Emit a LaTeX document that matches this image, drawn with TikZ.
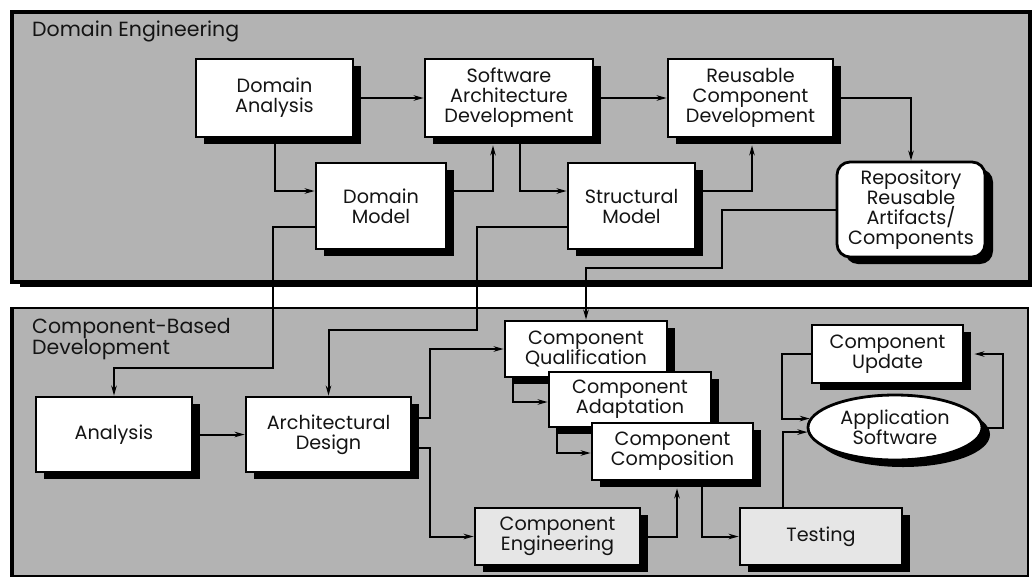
\documentclass[tikz,border=0pt]{standalone}
\usepackage{fontspec}
\setmainfont{Poppins}
\usetikzlibrary{shadows,arrows.meta,calc,shapes.geometric}
\definecolor{panel}{HTML}{B3B3B3}
\definecolor{light}{HTML}{E6E6E6}
\definecolor{ink}{HTML}{141414}
\begin{document}
\begin{tikzpicture}[x=1pt,y=-1pt,
  shad/.style={drop shadow={shadow xshift=8pt,shadow yshift=-7pt,fill=black,opacity=1}},
  box/.style={draw=black,line width=2.8pt,fill=white,align=center,text=ink,
    font=\fontsize{19.2}{20}\selectfont,inner sep=0pt,shad},
  lbox/.style={box,fill=light},
  conn/.style={line width=2pt,black},
  arr/.style={conn,-{Stealth[length=10pt,width=5.5pt]}},
  ttl/.style={text=ink,font=\fontsize{20.5}{20}\selectfont,inner sep=0pt,align=left}
]
\useasboundingbox (0,0) rectangle (1033,579);
% panels
\fill[black] (20,16) rectangle (1032,287);
\draw[line width=4pt,fill=panel] (12,12) rectangle (1030,282);
\draw[line width=1.2pt,fill=panel] (11,308) rectangle (1028,576);
\draw[line width=4pt] (12,307) -- (12,577);
\node[ttl,anchor=west] (t1) at (32,31) {Domain Engineering};
\node[ttl,anchor=north west] (t2) at (32,318) {Component-Based\\Development};
% top nodes
\node[box,minimum width=157pt,minimum height=78pt] (DA) at (274.5,98) {Domain\\Analysis};
\node[box,minimum width=168pt,minimum height=78pt] (SAD) at (509,98) {Software\\Architecture\\Development};
\node[box,minimum width=165pt,minimum height=78pt] (RCD) at (750.5,98) {Reusable\\Component\\Development};
\node[box,minimum width=130pt,minimum height=86pt] (DM) at (381,206) {Domain\\Model};
\node[box,minimum width=127pt,minimum height=86pt] (SM) at (631.5,206) {Structural\\Model};
\node[box,rounded corners=13pt,minimum width=148pt,minimum height=95pt] (RP) at (911,209.5) {Repository\\Reusable\\Artifacts/\\Components};
% bottom nodes
\node[box,minimum width=156pt,minimum height=75pt] (AN) at (114,434.5) {Analysis};
\node[box,minimum width=165pt,minimum height=75pt] (AD) at (328.5,434.5) {Architectural\\Design};
\node[box,minimum width=162pt,minimum height=56pt] (CQ) at (586,349) {Component\\Qualification};
\node[box,minimum width=162pt,minimum height=55pt] (CA) at (630,399.5) {Component\\Adaptation};
\node[box,minimum width=161pt,minimum height=57pt] (CC) at (672.5,451.5) {Component\\Composition};
\node[lbox,minimum width=165pt,minimum height=57pt] (CE) at (557.5,536.5) {Component\\Engineering};
\node[lbox,minimum width=162pt,minimum height=57pt] (TS) at (821,536.5) {Testing};
\node[box,minimum width=151pt,minimum height=58pt] (CU) at (887.5,354) {Component\\Update};
\node[box,ellipse,minimum width=174pt,minimum height=65pt] (AS) at (895,427.5) {Application\\Software};
% top connectors
\draw[arr] (DA.east) -- (SAD.west);
\draw[arr] (SAD.east) -- (RCD.west);
\draw[arr] (RCD.east) -| (RP.north);
\draw[arr] (DA.south) |- ([yshift=15pt]DM.west);
\draw[arr] ([yshift=15pt]DM.east) -| ([xshift=-16pt,yshift=-7pt]SAD.south);
\draw[arr] ([xshift=11pt]SAD.south) |- ([yshift=15pt]SM.west);
\draw[arr] ([yshift=15pt]SM.east) -| ([xshift=1.5pt,yshift=-7pt]RCD.south);
\coordinate (c1) at (273,368);
\coordinate (c2) at (477,330);
\coordinate (c3) at (722,268);
\draw[arr] ([yshift=-21pt]DM.west) -| (c1) -| (AN.north);
\draw[arr] ([yshift=-21pt]SM.west) -| (c2) -| (AD.north);
\draw[arr] (RP.west) -| (c3) -| (CQ.north);
% bottom connectors
\draw[arr] (AN.east) -- (AD.west);
\draw[arr] ([yshift=16.5pt]AD.east) -- ++(18,0) |- (CQ.west);
\draw[arr] ([yshift=-13.5pt]AD.east) -- ++(18,0) |- (CE.west);
\draw[arr] ([xshift=-73pt]CQ.south) |- ([yshift=-2.5pt]CA.west);
\draw[arr] ([xshift=-73pt]CA.south) |- ([yshift=-1.5pt]CC.west);
\draw[arr] (CE.east) -| ([xshift=4.5pt,yshift=-7pt]CC.south);
\draw[arr] ([xshift=29.5pt]CC.south) |- (TS.west);
\draw[arr] ([xshift=-38pt]TS.north) |- (AS.183);
\draw[arr] (CU.west) -- ++(-29,0) |- (AS.174);
\draw[arr] (AS.east) -- ++(20,0) |- ([xshift=10pt]CU.east);
\end{tikzpicture}
\end{document}
